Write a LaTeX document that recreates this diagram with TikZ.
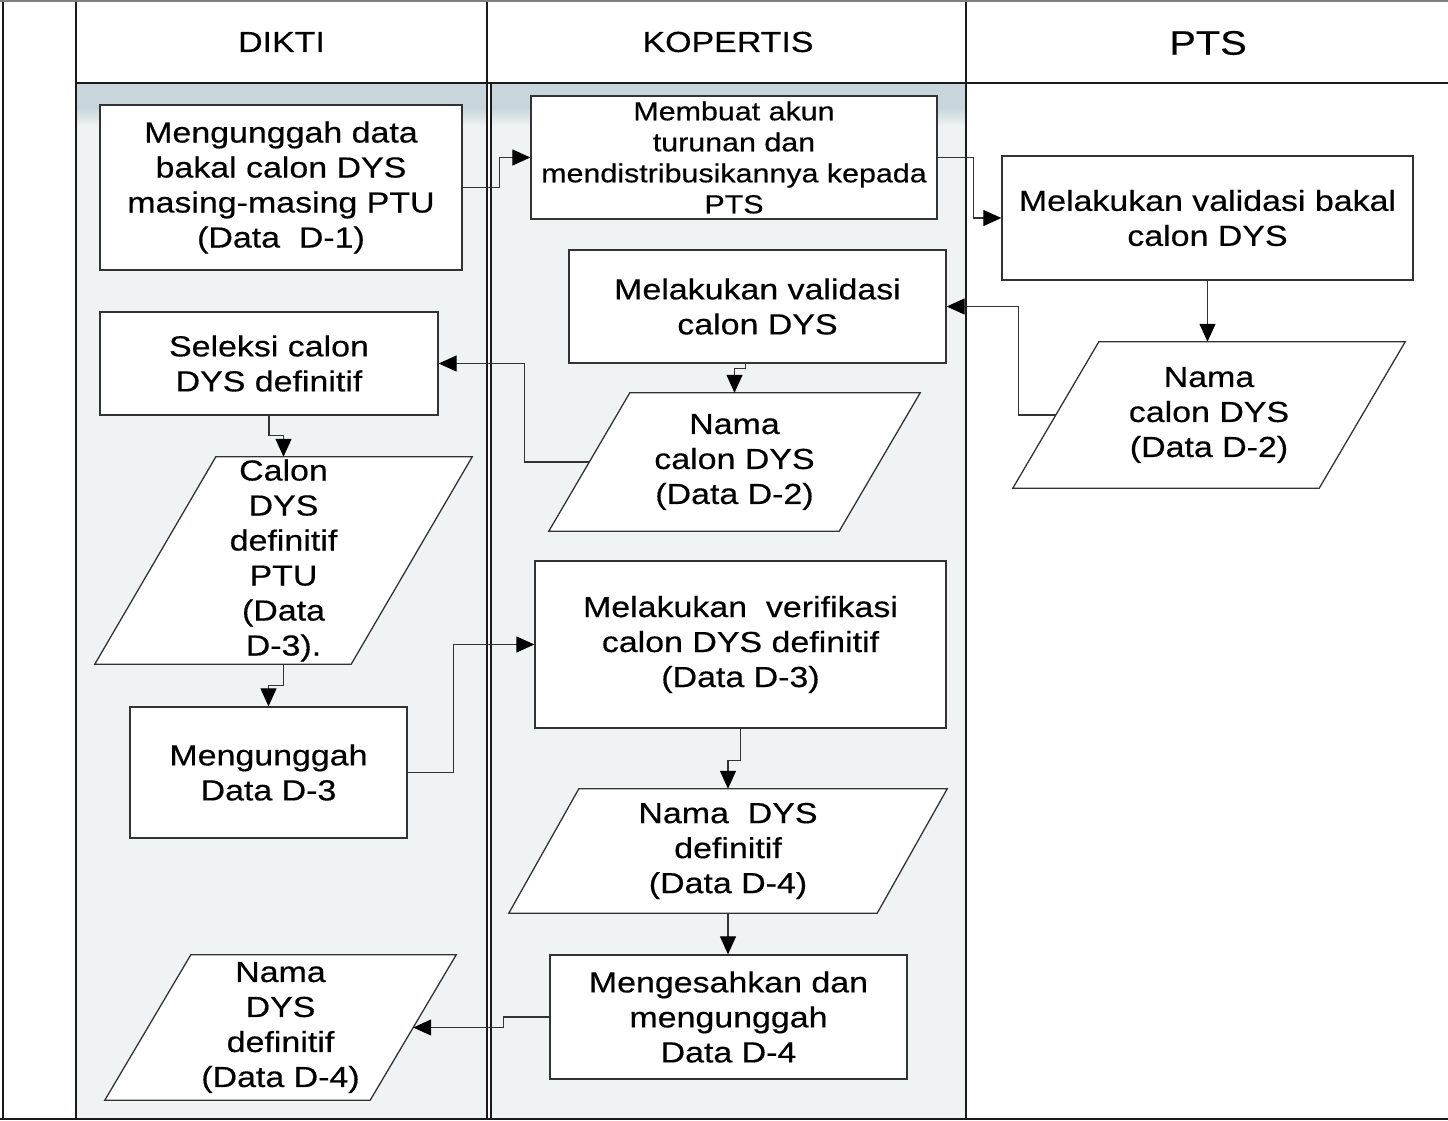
\documentclass[tikz,border=0pt]{standalone}
\usepackage{fontspec}
\setmainfont{Liberation Sans}[FakeStretch=1.17,FakeBold=0.4]
\usetikzlibrary{arrows.meta,calc}
\definecolor{lanefill}{HTML}{EFF3F4}
\definecolor{laneband}{HTML}{C8D6DB}
\definecolor{boxcol}{HTML}{333333}
\definecolor{linecol}{HTML}{1A1A1A}
\pgfdeclarelayer{lanebg}
\pgfdeclarelayer{shp}
\pgfsetlayers{lanebg,shp,main}
\newcommand\txt{\fontsize{29}{35}\selectfont}
\newcommand\smalltxt{\fontsize{26}{31}\selectfont}
\newcommand\paraoutline[2]{%
  \begin{pgfonlayer}{shp}
  \draw[boxline] (#1.south west) -- ($(#1.north west)+(#2,0)$) -- (#1.north east) -- ($(#1.south east)+(-#2,0)$) -- cycle;
  \end{pgfonlayer}}
\tikzset{
  boxline/.style={draw=boxcol, fill=white, line width=1.3pt},
  box/.style={boxline, align=center, font=\txt, inner sep=0pt},
  para/.style={align=center, font=\txt, inner sep=0pt},
  lane/.style={draw=linecol, line width=1.4pt},
  hdr/.style={font=\txt, inner sep=0pt},
  arr/.style={draw=boxcol, line width=1.2pt, -{Triangle[length=18pt,width=16pt,color=black,fill=black]}}
}
\begin{document}
\begin{tikzpicture}[x=1pt,y=-1pt]
\useasboundingbox (0,0) rectangle (1448,1121);
\begin{pgfonlayer}{lanebg}
  \fill[lanefill] (76,83) rectangle (487,1119);
  \fill[lanefill] (491,83) rectangle (966,1119);
  \fill[laneband] (76,83) rectangle (487,108);
  \fill[laneband] (491,83) rectangle (966,108);
  \shade[top color=laneband,bottom color=lanefill] (76,108) rectangle (487,126);
  \shade[top color=laneband,bottom color=lanefill] (491,108) rectangle (966,126);
  \draw[lane] (3,1) -- (3,1119);
  \draw[lane] (76,1) -- (76,1119);
  \draw[lane] (487,1) -- (487,1119);
  \draw[lane] (491,83) -- (491,1119);
  \draw[lane] (966,1) -- (966,1119);
  \draw[lane] (0,1119) -- (1448,1119);
  \draw[lane] (76,83) -- (1448,83);
  \draw[draw=gray, line width=2.5pt] (0,1.2) -- (1448,1.2);
\end{pgfonlayer}

% headers
\node[hdr] (hdikti) at (281.5,42) {DIKTI};
\node[hdr] (hkop) at (728,42) {KOPERTIS};
\node[hdr, font=\fontsize{34}{40}\selectfont] (hpts) at (1208,43) {PTS};

% DIKTI lane
\node[box, minimum width=362, minimum height=165] (n1) at (281,187.5)
  {Mengunggah data\\bakal calon DYS\\masing-masing PTU\\(Data\ \ D-1)};
\node[box, minimum width=338, minimum height=103] (n2) at (269,363.5)
  {Seleksi calon\\DYS definitif};
\node[para, minimum width=377, minimum height=207] (n3) at (283.5,560.5)
  {Calon\\DYS\\definitif\\PTU\\(Data\\D-3).};
\paraoutline{n3}{121}
\node[box, minimum width=277, minimum height=131] (n4) at (268.5,772.5)
  {Mengunggah\\Data D-3};
\node[para, minimum width=351, minimum height=145] (n5) at (280.5,1027.5)
  {Nama\\DYS\\definitif\\(Data D-4)};
\paraoutline{n5}{86}

% KOPERTIS lane
\node[box, font=\smalltxt, minimum width=406, minimum height=123] (k1) at (734,157.5)
  {Membuat akun\\turunan dan\\mendistribusikannya kepada\\PTS};
\node[box, minimum width=377, minimum height=113] (k2) at (757.5,306.5)
  {Melakukan validasi\\calon DYS};
\node[para, minimum width=371, minimum height=138] (k3) at (734.5,462)
  {Nama\\calon DYS\\(Data D-2)};
\paraoutline{k3}{81}
\node[box, minimum width=411, minimum height=167] (k4) at (740.5,644.5)
  {Melakukan\ \ verifikasi\\calon DYS definitif\\(Data D-3)};
\node[para, minimum width=438, minimum height=124] (k5) at (728,851)
  {Nama\ \ DYS\\definitif\\(Data D-4)};
\paraoutline{k5}{70}
\node[box, minimum width=357, minimum height=124] (k6) at (728.5,1017)
  {Mengesahkan dan\\mengunggah\\Data D-4};

% PTS lane
\node[box, minimum width=411, minimum height=124] (p1) at (1207.5,218)
  {Melakukan validasi bakal\\calon DYS};
\node[para, minimum width=392, minimum height=146] (p2) at (1209,415)
  {Nama\\calon DYS\\(Data D-2)};
\paraoutline{p2}{86}

% connectors
\draw[arr] (n1.east) -- ++(37,0) |- (k1.west);
\draw[arr] (k1.east) -- ++(36,0) |- (p1.west);
\draw[arr] (p1.south) -- (p1.south |- p2.north);
\draw[arr] ($(p2.west)+(43,0)$) -- ++(-37,0) |- (k2.east);
\draw[arr] ($(k2.south)+(-12,0)$) -- ++(0,5) -| (k3.north);
\draw[arr] ($(k3.west)+(40.5,0)$) -- ++(-65,0) |- (n2.east);
\draw[arr] (n2.south) -- ++(0,20) -| (n3.north);
\draw[arr] (n3.south) -- ++(0,21) -| (n4.north);
\draw[arr] (n4.east) -- ++(46,0) |- (k4.west);
\draw[arr] (k4.south) -- ++(0,32) -| (k5.north);
\draw[arr] (k5.south) -- (k5.south |- k6.north);
\draw[arr] (k6.west) -- ++(-46,0) |- ($(n5.east)+(-43,0)$);
\end{tikzpicture}
\end{document}
